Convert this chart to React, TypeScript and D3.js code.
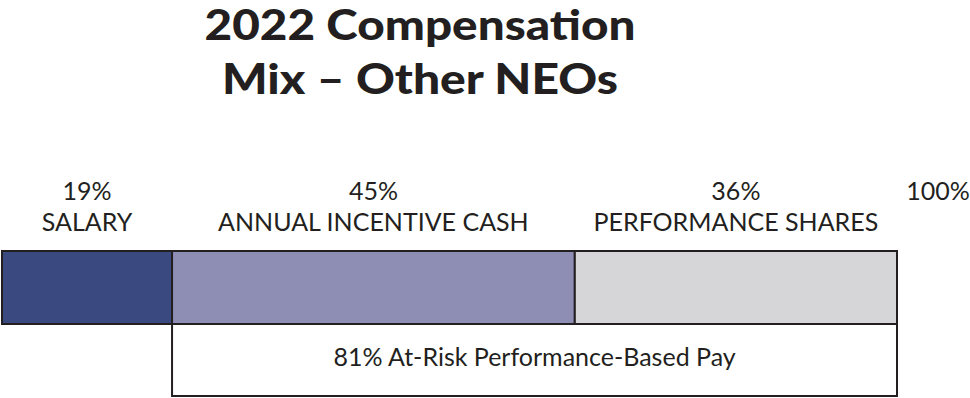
import React from "react";
import * as d3 from "d3";

const categories = ["SALARY", "ANNUAL INCENTIVE CASH", "PERFORMANCE SHARES"];
const shares = [19, 45, 36];
const colors = ["#3a4a80", "#8e8db3", "#d6d6d8"];
const totalLabel = "100%";
const atRiskLabel = "81% At-Risk Performance-Based Pay";
const titleLines = ["2022 Compensation", "Mix – Other NEOs"];

const W = 970;
const H = 398;

export default function App() {
  const x = d3.scaleLinear().domain([0, 100]).range([2, 897]);
  const starts = d3.cumsum([0, ...shares]);
  const segs = categories.map((c, i) => ({
    name: c,
    value: shares[i],
    x0: starts[i],
    x1: starts[i] + shares[i],
    color: colors[i],
  }));
  const barTop = 251;
  const barBot = 324;
  const boxBot = 396;
  const atRiskStart = shares[0];
  const font = "Lato, 'Open Sans', sans-serif";
  const titleWidths = [431, 396];

  return (
    <svg
      width={W}
      height={H}
      style={{ position: "absolute", left: 0, top: 0, background: "#fff" }}
    >
      <g fontFamily={font} fontWeight={900} fontSize={42} fill="#231f20" textAnchor="middle">
        {titleLines.map((t, i) => (
          <text
            key={t}
            x={420}
            y={40 + i * 54}
            textLength={titleWidths[i]}
            lengthAdjust="spacingAndGlyphs"
          >
            {t}
          </text>
        ))}
      </g>
      {segs.map((s) => (
        <g key={s.name}>
          <rect
            x={x(s.x0)}
            y={barTop}
            width={x(s.x1) - x(s.x0)}
            height={barBot - barTop}
            fill={s.color}
            stroke="#231f20"
            strokeWidth={2}
          />
          <text
            x={(x(s.x0) + x(s.x1)) / 2}
            y={200}
            textAnchor="middle"
            fontFamily={font}
            fontSize={25}
            fill="#231f20"
          >
            {s.value}%
          </text>
          <text
            x={(x(s.x0) + x(s.x1)) / 2}
            y={231}
            textAnchor="middle"
            fontFamily={font}
            fontSize={25}
            fill="#231f20"
          >
            {s.name}
          </text>
        </g>
      ))}
      <text x={938} y={200} textAnchor="middle" fontFamily={font} fontSize={25} fill="#231f20">
        {totalLabel}
      </text>
      <rect
        x={x(atRiskStart)}
        y={barBot}
        width={x(100) - x(atRiskStart)}
        height={boxBot - barBot}
        fill="none"
        stroke="#231f20"
        strokeWidth={2}
      />
      <text
        x={(x(atRiskStart) + x(100)) / 2}
        y={366}
        textAnchor="middle"
        fontFamily={font}
        fontSize={25}
        fill="#231f20"
      >
        {atRiskLabel}
      </text>
    </svg>
  );
}
